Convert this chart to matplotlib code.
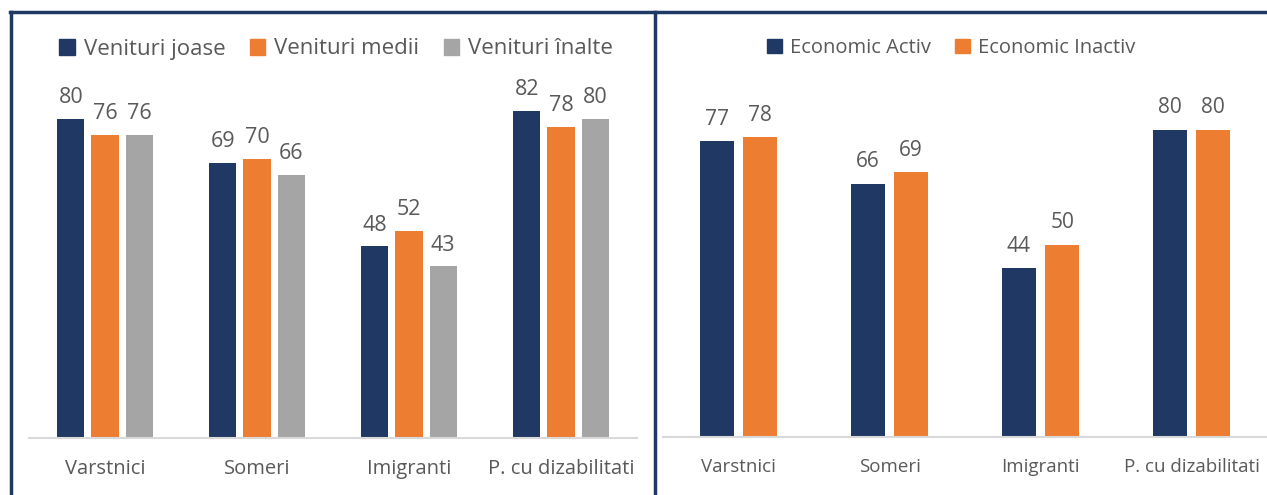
import matplotlib
matplotlib.use("Agg")
import matplotlib.pyplot as plt
from matplotlib.lines import Line2D
from matplotlib.patches import Patch
import numpy as np

plt.rcParams['font.family'] = ['Open Sans', 'DejaVu Sans']

categories = ['Varstnici', 'Someri', 'Imigranti', 'P. cu dizabilitati']

# left panel - by income
venituri_labels = ['Venituri joase', 'Venituri medii', 'Venituri înalte']
venituri_joase = [80, 69, 48, 82]
venituri_medii = [76, 70, 52, 78]
venituri_inalte = [76, 66, 43, 80]

# right panel - by economic status
economic_labels = ['Economic Activ', 'Economic Inactiv']
economic_activ = [77, 66, 44, 80]
economic_inactiv = [78, 69, 50, 80]

NAVY = '#203864'
ORANGE = '#ED7D31'
GREY = '#A5A5A5'
TEXT = '#595959'
W, H = 1267, 495

fig = plt.figure(figsize=(W / 100, H / 100), dpi=100)


def px_axes(x0, x1, ybase, ytop):
    return fig.add_axes([x0 / W, (H - ybase) / H, (x1 - x0) / W, (ybase - ytop) / H])


def style(ax, fs, pad):
    for s in ['top', 'right', 'left']:
        ax.spines[s].set_visible(False)
    ax.spines['bottom'].set_color('#D9D9D9')
    ax.spines['bottom'].set_linewidth(1.5)
    ax.set_yticks([])
    ax.set_ylim(0, 100)
    ax.set_xlim(-0.5, 3.5)
    ax.set_xticks(np.arange(len(categories)))
    ax.set_xticklabels(categories, fontsize=fs, color=TEXT)
    ax.tick_params(axis='x', length=0, pad=pad)
    ax.patch.set_alpha(0)


# ---- left
ax1 = px_axes(29, 637, 438, 39)
x = np.arange(len(categories))
series1 = [venituri_joase, venituri_medii, venituri_inalte]
colors1 = [NAVY, ORANGE, GREY]
for i, (vals, c) in enumerate(zip(series1, colors1)):
    bars = ax1.bar(x + (i - 1) * 0.224, vals, width=0.178, color=c)
    for b, v in zip(bars, vals):
        ax1.text(b.get_x() + b.get_width() / 2, v + 2.6, str(v), ha='center', va='bottom',
                 fontsize=15.5, color=TEXT)
style(ax1, 14.5, 15)

h1 = [Patch(color=c) for c in colors1]
fig.legend(h1, venituri_labels, loc='center', bbox_to_anchor=(336 / W, 1 - 49 / H), ncol=3,
           frameon=False, fontsize=16, handlelength=0.7, handleheight=0.7,
           handletextpad=0.4, columnspacing=1.1, labelcolor=TEXT)

# ---- right
ax2 = px_axes(663, 1267, 437, 53)
series2 = [economic_activ, economic_inactiv]
colors2 = [NAVY, ORANGE]
for i, (vals, c) in enumerate(zip(series2, colors2)):
    bars = ax2.bar(x + (i - 0.5) * 0.286, vals, width=0.225, color=c)
    for b, v in zip(bars, vals):
        ax2.text(b.get_x() + b.get_width() / 2, v + 3.0, str(v), ha='center', va='bottom',
                 fontsize=15, color=TEXT)
style(ax2, 13.5, 15)

h2 = [Patch(color=c) for c in colors2]
fig.legend(h2, economic_labels, loc='center', bbox_to_anchor=(951 / W, 1 - 48 / H), ncol=2,
           frameon=False, fontsize=14.5, handlelength=0.75, handleheight=0.75,
           handletextpad=0.4, columnspacing=1.2, labelcolor=TEXT)

# frame lines
fig.add_artist(Line2D([10 / W, 1], [1 - 12 / H, 1 - 12 / H], color=NAVY, lw=2.5))
fig.add_artist(Line2D([11 / W, 11 / W], [0, 1 - 12 / H], color=NAVY, lw=2.5))
fig.add_artist(Line2D([655 / W, 655 / W], [0, 1 - 12 / H], color=NAVY, lw=2.5))

fig.savefig('out.png', dpi=100)
